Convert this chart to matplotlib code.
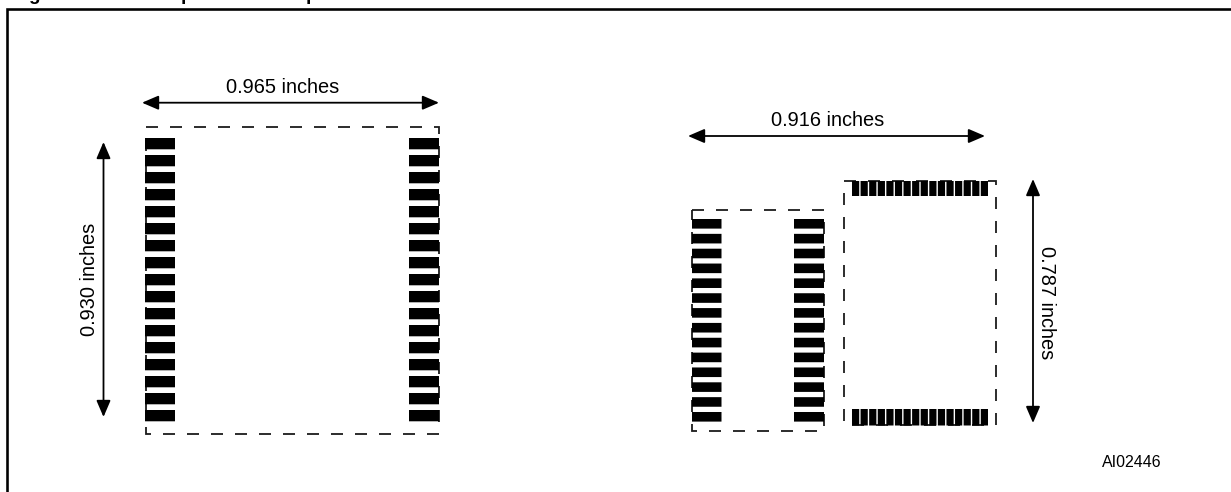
import matplotlib
matplotlib.use('Agg')
import numpy as np
import matplotlib.pyplot as plt
from matplotlib.patches import FancyArrowPatch, Rectangle

plt.rcParams['font.family'] = ['Liberation Sans', 'DejaVu Sans']
plt.rcParams['lines.scale_dashes'] = False

title_parts = ['Figure', 'p', 'p']  # title is cut off by the page, only these descenders show
dim_labels = ['0.965 inches', '0.930 inches', '0.916 inches', '0.787 inches']
ref_label = 'AI02446'
pads_large_side = 17
pads_small_side = 14
pads_small_top = 16

PX = 0.72  # one pixel in points at dpi 100

fig = plt.figure(figsize=(12.31, 4.92), dpi=100)
ax = fig.add_axes([0, 0, 1, 1])
ax.set_xlim(0, 1231)
ax.set_ylim(492, 0)
ax.axis('off')


def dashed_box(x0, y0, x1, y1):
    # clockwise from the top left corner so the dashes wrap like the original
    ax.plot([x0, x1, x1, x0, x0], [y0, y0, y1, y1, y0], color='#1a1a1a', lw=1.8 * PX,
            linestyle=(0, (12 * PX, 12 * PX)), dash_capstyle='butt', dash_joinstyle='miter')


def pads_v(x0, x1, y_first, y_last, h, n):
    for y in np.linspace(y_first, y_last, n):
        ax.add_patch(Rectangle((x0, y), x1 - x0, h, fc='black', ec='none', zorder=3, snap=False))


def pads_h(x_first, x_last, y0, y1, w, n):
    for x in np.linspace(x_first, x_last, n):
        ax.add_patch(Rectangle((x, y0), w, y1 - y0, fc='black', ec='none', zorder=3, snap=False))


def arrow(x0, y0, x1, y1):
    ax.add_patch(FancyArrowPatch((x0, y0), (x1, y1), shrinkA=0, shrinkB=0,
                                 arrowstyle='<|-|>,head_length=1.4,head_width=0.6',
                                 mutation_scale=7.2, color='black', lw=1.8 * PX, zorder=4))


# page frame, open on the right and at the bottom
ax.plot([7, 7, 1231], [492, 9, 9], color='black', lw=2.6 * PX, solid_joinstyle='miter')

# large footprint
dashed_box(145.5, 126.5, 438.5, 433.5)
pads_v(145, 175, 138, 410, 11.3, pads_large_side)
pads_v(409, 439, 138, 410, 11.3, pads_large_side)
arrow(142, 102.7, 439, 102.7)
arrow(103.5, 142, 103.5, 417)

# small footprint, two boxes
dashed_box(692, 210, 824, 431)
pads_v(692, 721.5, 219, 412, 9.6, pads_small_side)
pads_v(794, 824, 219, 412, 9.6, pads_small_side)
dashed_box(844, 181, 996, 425)
pads_h(852, 980.8, 181, 196, 7.2, pads_small_top)
pads_h(852, 980.8, 409, 425.5, 7.2, pads_small_top)
arrow(688, 136, 985, 136)
arrow(1033, 179, 1033, 423)

# labels
ax.text(282.5, 92.7, dim_labels[0], fontsize=14.4, ha='center', va='baseline', color='black')
ax.text(95, 279, dim_labels[1], fontsize=14.4, rotation=90, ha='center', va='baseline',
        rotation_mode='anchor', color='black')
ax.text(828, 126, dim_labels[2], fontsize=14.4, ha='center', va='baseline', color='black')
ax.text(1041, 303, dim_labels[3], fontsize=14.4, rotation=270, ha='center', va='baseline',
        rotation_mode='anchor', color='black')
ax.text(1102, 467, ref_label, fontsize=11.5, ha='left', va='baseline', color='black')

# clipped title
for part, x in zip(title_parts, [13, 181, 306]):
    ax.text(x, 0, part, fontsize=13.7, fontweight='bold', ha='left', va='baseline', color='black')

fig.savefig('out.png', dpi=100)
